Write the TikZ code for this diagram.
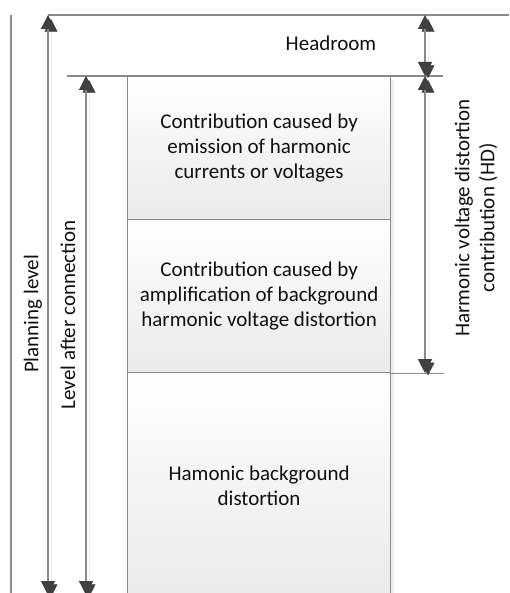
\documentclass[tikz,border=0pt]{standalone}
\usepackage{fontspec}
\setmainfont{Carlito}
\usetikzlibrary{arrows.meta,positioning,shadows}
\definecolor{rulegray}{HTML}{8A8A8A}
\definecolor{headgray}{HTML}{404040}
\definecolor{boxgray}{HTML}{EAEAEA}
\definecolor{shadegray}{HTML}{EDEDED}
\definecolor{textgray}{HTML}{111111}
\tikzset{
  rule/.style={draw=rulegray,line width=1.2pt},
  dim/.style={rule,{Triangle[width=14pt,length=14pt,color=headgray]}-{Triangle[width=14pt,length=14pt,color=headgray]},
    preaction={draw=shadegray,transform canvas={shift={(3pt,-3pt)}}}},
  block/.style={rectangle,draw=rulegray,line width=1.2pt,top color=white,bottom color=boxgray,
    minimum width=263pt,inner sep=0pt,align=center,text=textgray,
    drop shadow={shadow xshift=3pt,shadow yshift=-3pt,fill=shadegray,opacity=1}},
  lbl/.style={text=textgray,align=center}
}
\begin{document}
\begin{tikzpicture}[x=1pt,y=-1pt,font=\fontsize{21}{25}\selectfont]
\useasboundingbox (0,0) rectangle (509,593);
\clip (0,0) rectangle (509,593);
% contributions
\node[block,minimum height=143pt,anchor=north west] (emis) at (127,76)
  {Contribution caused by\\emission of harmonic\\currents or voltages};
\node[block,minimum height=153pt,below=-1.2pt of emis] (ampl)
  {Contribution caused by\\amplification of background\\harmonic voltage distortion};
\node[block,minimum height=226pt,below=-1.2pt of ampl] (bgnd)
  {Hamonic background\\distortion};
% levels
\coordinate (plantop) at (48,15);
\coordinate (planbot) at (48,595);
\coordinate (lactop) at (86,76);
\coordinate (lacbot) at (86,595);
\coordinate (headtop) at (425,15);
\coordinate (headbot) at (425,76);
\coordinate (hdbot) at (ampl.south east -| headbot);
\coordinate (hdend) at ([xshift=53pt]ampl.south east);
% reference lines
\draw[rule] (11,15) -- (11,593);
\draw[rule] (plantop) -- (509,15);
\draw[rule] (67,76) -- (443,76);
\draw[rule] (ampl.south east) -- (hdend);
% dimension arrows
\draw[dim] (plantop) -- (planbot);
\draw[dim] (lactop) -- (lacbot);
\draw[dim] (headtop) -- (headbot);
\draw[dim] (headbot) -- (hdbot);
% labels
\node[lbl,rotate=90] (plan) at (33,314) {Planning level};
\node[lbl,rotate=90] (lac) at (68,315) {Level after connection};
\node[lbl] (head) at (331,43) {Headroom};
\node[lbl,rotate=90] (hd) at (476,218) {Harmonic voltage distortion\\contribution (HD)};
\end{tikzpicture}
\end{document}
